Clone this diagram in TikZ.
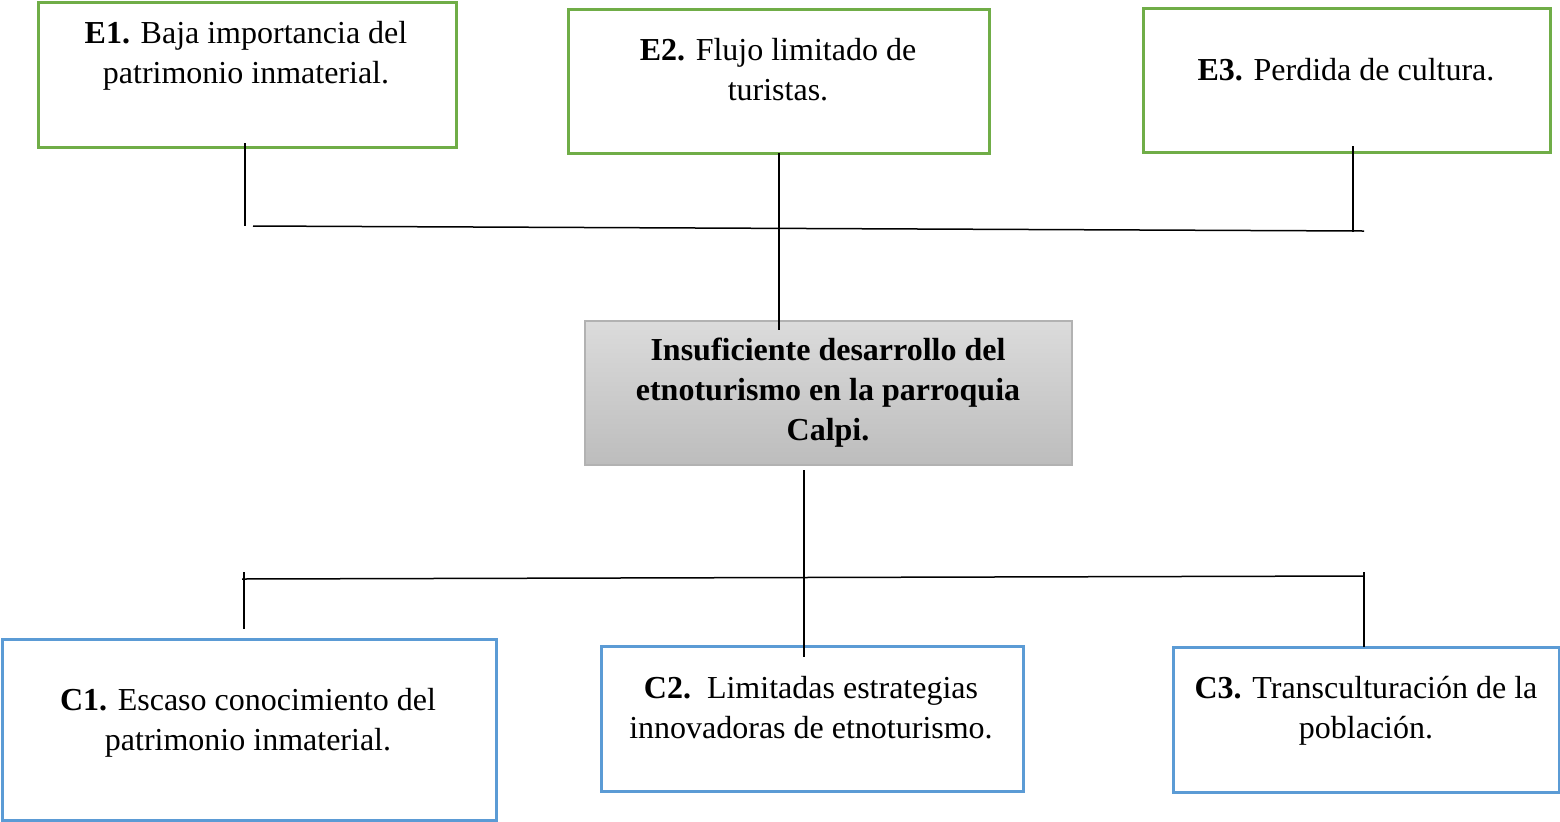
\documentclass[tikz,border=0pt]{standalone}
\usepackage{fontspec}
\setmainfont{Liberation Serif}
\definecolor{efgreen}{HTML}{70AD47}
\definecolor{cablue}{HTML}{5B9BD5}
\tikzset{box/.style={draw,line width=1.5pt,inner sep=0pt,outer sep=0pt},
	ebox/.style={box,draw=efgreen},
	cbox/.style={box,draw=cablue},
	txt/.style={anchor=north,inner sep=0pt,align=center,font=\fontsize{16}{20}\selectfont},
	link/.style={line width=0.75pt}}

\begin{document}
\begin{tikzpicture}[x=0.5pt,y=-0.5pt]
	\useasboundingbox (0,0) rectangle (1560,821);
	% effects
	\node[ebox,minimum width=209pt,minimum height=72.5pt](e1) at (247,74.5){};
	\node[ebox,minimum width=210.5pt,minimum height=72pt](e2) at (778.5,81){};
	\node[ebox,minimum width=203.5pt,minimum height=72pt](e3) at (1346.5,80){};
	\node[txt](e1-t) at (246,15){\strut\textbf{E1.} Baja importancia del\\patrimonio inmaterial.};
	\node[txt](e2-t) at (778,32){\strut\textbf{E2.} Flujo limitado de\\turistas.};
	\node[txt](e3-t) at (1346,52){\strut\textbf{E3.} Perdida de cultura.};
	% problem
	\node[box,line width=1pt,draw=black!30,top color=black!14,bottom color=black!26,
		minimum width=243.5pt,minimum height=72pt](prob) at (828.5,393){};
	\node[txt,font=\fontsize{16}{20}\selectfont\bfseries](prob-t) at (828,332)
		{\strut Insuficiente desarrollo del\\etnoturismo en la parroquia\\Calpi.};
	% causes
	\node[cbox,minimum width=247pt,minimum height=90.5pt](c1) at (249,729.5){};
	\node[cbox,minimum width=211pt,minimum height=72.5pt](c2) at (812,718.5){};
	\node[cbox,minimum width=193pt,minimum height=72.5pt](c3) at (1366,719.5){};
	\node[txt](c1-t) at (248,682){\strut\textbf{C1.} Escaso conocimiento del\\patrimonio inmaterial.};
	\node[txt](c2-t) at (811,670){\strut\textbf{C2.}\ \ Limitadas estrategias\\innovadoras de etnoturismo.};
	\node[txt](c3-t) at (1366,670){\strut\textbf{C3.} Transculturación de la\\población.};

	% upper tree
	\coordinate (e1-y) at (245,226);
	\coordinate (top-l) at (253,226);
	\coordinate (top-r) at (1364,231);
	\coordinate (e3-y) at (1353,232);
	\draw[link] ([yshift=2pt]e1.south-|e1-y) -- (e1-y);
	\draw[link] (top-l) -- (top-r);
	\draw[link] ([yshift=3pt]e3.south-|e3-y) -- (e3-y);
	\draw[link] (e2.south-|779,0) -- ([yshift=-4.5pt]prob.north-|779,0);

	% lower tree
	\coordinate (bot-l) at (242,579);
	\coordinate (bot-r) at (1364,576);
	\coordinate (c1-y) at (244,572);
	\coordinate (c3-y) at (1364,572);
	\draw[link] (bot-l) -- (bot-r);
	\draw[link] (c1-y) -- ([yshift=5pt]c1.north-|c1-y);
	\draw[link] (c3-y) -- (c3.north-|c3-y);
	\draw[link] ([yshift=-2.5pt]prob.south-|804,0) -- ([yshift=-5.5pt]c2.north-|804,0);
\end{tikzpicture}
\end{document}
